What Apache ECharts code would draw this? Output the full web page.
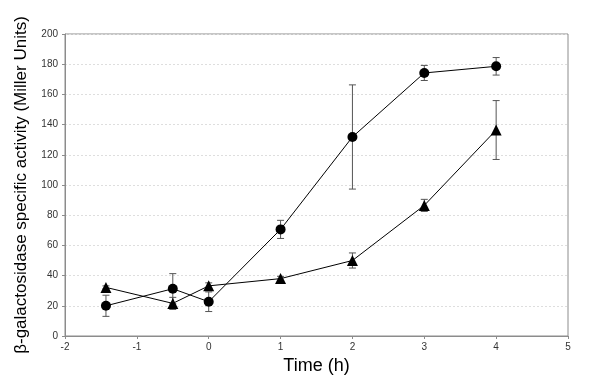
<!DOCTYPE html>
<html>
<head>
<meta charset="utf-8">
<script src="https://cdn.jsdelivr.net/npm/echarts@6/dist/echarts.min.js"></script>
<style>
  html, body { margin: 0; padding: 0; background: #fff; }
  #main { width: 600px; height: 384px; }
</style>
</head>
<body>
<div id="main"></div>
<script>
// time points (h)
var timeCircle = [-1.43, -0.5, 0, 1, 2, 3, 4];
var valCircle  = [20, 31.3, 22.7, 70.6, 131.8, 174.2, 178.6];
var errCircle  = [7, 10, 6.5, 6, 34.5, 5, 5.8];

var timeTri = [-1.43, -0.5, 0, 1, 2, 3, 4];
var valTri  = [32.2, 21.6, 33.2, 38, 50, 86.5, 136.4];
var errTri  = [1, 4, 2, 1.5, 5, 4, 19.5];

var xTicks = [-2, 5, 1];   // min, max, interval
var yTicks = [0, 200, 20];

var yName = 'β-galactosidase specific activity (Miller Units)';
var xName = 'Time (h)';

function pairs(xs, ys) {
  var out = [];
  for (var i = 0; i < xs.length; i++) out.push([xs[i], ys[i]]);
  return out;
}
function errRows(xs, ys, es) {
  var out = [];
  for (var i = 0; i < xs.length; i++) out.push([xs[i], ys[i] - es[i], ys[i] + es[i]]);
  return out;
}

function renderErr(params, api) {
  var x = api.value(0);
  var lo = api.coord([x, api.value(1)]);
  var hi = api.coord([x, api.value(2)]);
  var w = 3.5;
  var st = { stroke: '#555', lineWidth: 1, fill: null };
  return {
    type: 'group',
    children: [
      { type: 'line', shape: { x1: lo[0], y1: lo[1], x2: hi[0], y2: hi[1] }, style: st },
      { type: 'line', shape: { x1: lo[0] - w, y1: lo[1], x2: lo[0] + w, y2: lo[1] }, style: st },
      { type: 'line', shape: { x1: hi[0] - w, y1: hi[1], x2: hi[0] + w, y2: hi[1] }, style: st }
    ]
  };
}

var myChart = echarts.init(document.getElementById('main'));
var font = '"Liberation Sans", Arial, sans-serif';

var option = {
  animation: false,
  grid: {
    left: 65, right: 32, top: 34, bottom: 48,
    show: true, borderColor: '#8c8c8c', borderWidth: 1
  },
  xAxis: {
    type: 'value',
    min: xTicks[0], max: xTicks[1], interval: xTicks[2],
    name: xName,
    nameLocation: 'middle',
    nameGap: 18,
    nameTextStyle: { fontFamily: font, fontSize: 18, color: '#000' },
    axisLine: { onZero: false, lineStyle: { color: '#8c8c8c' } },
    axisTick: { length: 3, lineStyle: { color: '#8c8c8c' } },
    axisLabel: { fontFamily: font, fontSize: 10, color: '#333', margin: 6 },
    splitLine: { show: false }
  },
  yAxis: {
    type: 'value',
    min: yTicks[0], max: yTicks[1], interval: yTicks[2],
    name: yName,
    nameLocation: 'middle',
    nameGap: 35,
    nameTextStyle: { fontFamily: font, fontSize: 17, color: '#000' },
    axisLine: { show: true, onZero: false, lineStyle: { color: '#8c8c8c' } },
    axisTick: { show: true, length: 3, lineStyle: { color: '#8c8c8c' } },
    axisLabel: { fontFamily: font, fontSize: 10, color: '#333', margin: 7 },
    splitLine: { show: true, lineStyle: { color: '#dedede', type: [2, 2] } }
  },
  series: [
    {
      type: 'custom',
      renderItem: renderErr,
      data: errRows(timeCircle, valCircle, errCircle),
      encode: { x: 0, y: [1, 2] },
      z: 1
    },
    {
      type: 'custom',
      renderItem: renderErr,
      data: errRows(timeTri, valTri, errTri),
      encode: { x: 0, y: [1, 2] },
      z: 1
    },
    {
      type: 'line',
      data: pairs(timeCircle, valCircle),
      symbol: 'circle',
      symbolSize: 10,
      itemStyle: { color: '#000' },
      lineStyle: { color: '#000', width: 1 },
      z: 3
    },
    {
      type: 'line',
      data: pairs(timeTri, valTri),
      symbol: 'triangle',
      symbolSize: 11,
      itemStyle: { color: '#000' },
      lineStyle: { color: '#000', width: 1 },
      z: 3
    }
  ]
};

myChart.setOption(option);
</script>
</body>
</html>
